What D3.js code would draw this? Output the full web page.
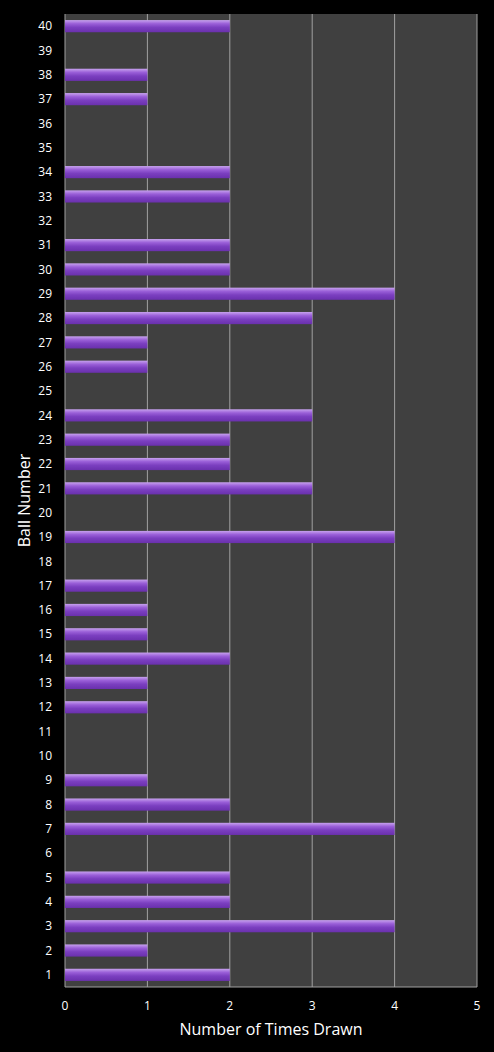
<!DOCTYPE html>
<html><head><meta charset="utf-8">
<script src="https://cdn.jsdelivr.net/npm/d3@7"></script>
<style>body{margin:0;background:#000}</style></head>
<body><div id="chart"></div>
<script>
var balls = d3.range(1, 41)
var counts = [2,1,4,2,2,0,4,2,1,0, 0,1,1,2,1,1,1,0,4,0, 3,2,2,3,0,1,1,3,4,2, 2,0,2,2,0,0,1,1,0,2]
var xTicks = [0,1,2,3,4,5]

var data = balls.map((b, i) => ({ball: b, count: counts[i]}))
var W = 494, H = 1052
var m = {top: 14, right: 17, bottom: 65, left: 65}

var svg = d3.select('#chart').append('svg').attr('width', W).attr('height', H)
  .style('background', '#000').style('font-family', 'Open Sans, sans-serif')

var grad = svg.append('defs').append('linearGradient').attr('id', 'bar')
  .attr('x1', 0).attr('y1', 0).attr('x2', 0).attr('y2', 1)
grad.append('stop').attr('offset', '0%').attr('stop-color', '#c7a2ee')
grad.append('stop').attr('offset', '30%').attr('stop-color', '#9a5fd8')
grad.append('stop').attr('offset', '60%').attr('stop-color', '#7b3fc0')
grad.append('stop').attr('offset', '100%').attr('stop-color', '#6a30ad')

var x = d3.scaleLinear().domain([0, 5]).range([m.left, W - m.right])
var y = d3.scaleBand().domain(balls.slice().reverse()).range([m.top, H - m.bottom]).paddingInner(0.5).paddingOuter(0.25)

svg.append('rect').attr('x', x(0)).attr('y', m.top).attr('width', x(5) - x(0))
  .attr('height', H - m.bottom - m.top).attr('fill', '#404040')

svg.selectAll('.grid').data(xTicks.slice(1)).join('line')
  .attr('x1', d => x(d)).attr('x2', d => x(d)).attr('y1', m.top).attr('y2', H - m.bottom)
  .attr('stroke', '#a0a0a0').attr('stroke-width', 1)

svg.append('line').attr('x1', x(0)).attr('x2', x(0)).attr('y1', m.top).attr('y2', H - m.bottom).attr('stroke', '#a0a0a0')
svg.append('line').attr('x1', x(0)).attr('x2', x(5)).attr('y1', H - m.bottom).attr('y2', H - m.bottom).attr('stroke', '#a0a0a0')

svg.selectAll('.bar').data(data.filter(d => d.count > 0)).join('rect')
  .attr('x', x(0)).attr('y', d => y(d.ball)).attr('width', d => x(d.count) - x(0))
  .attr('height', y.bandwidth()).attr('fill', 'url(#bar)')

svg.selectAll('.yl').data(balls).join('text')
  .attr('x', 52).attr('y', d => y(d) + y.bandwidth() / 2).attr('dy', '0.35em')
  .attr('text-anchor', 'end').attr('fill', '#fff').attr('font-size', 12).text(d => d)

svg.selectAll('.xl').data(xTicks).join('text')
  .attr('x', d => x(d)).attr('y', H - m.bottom + 23).attr('text-anchor', 'middle')
  .attr('fill', '#fff').attr('font-size', 12).text(d => d)

svg.append('text').attr('x', (x(0) + x(5)) / 2).attr('y', H - 17).attr('text-anchor', 'middle')
  .attr('fill', '#fff').attr('font-size', 16).text('Number of Times Drawn')

svg.append('text').attr('transform', `translate(30,${(m.top + H - m.bottom) / 2}) rotate(-90)`)
  .attr('text-anchor', 'middle').attr('fill', '#fff').attr('font-size', 16).text('Ball Number')
</script></body></html>
